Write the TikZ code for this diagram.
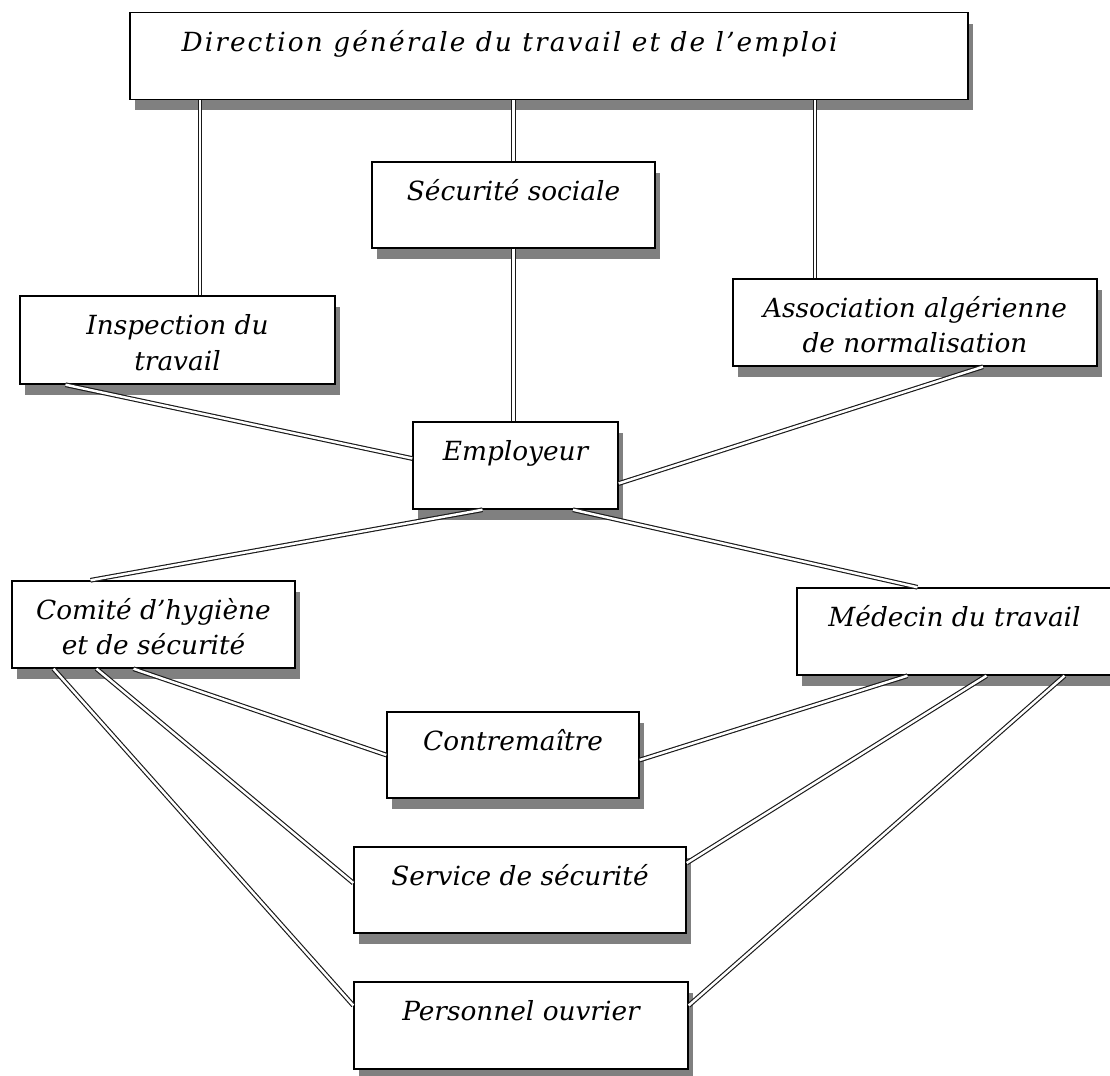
\documentclass[tikz,border=0pt]{standalone}
\usepackage{fontspec}
\setmainfont{DejaVu Serif}
\usetikzlibrary{shadows}

\begin{document}
\begin{tikzpicture}[x=0.02cm, y=-0.02cm,
        box/.style={draw=black, line width=0.85pt, fill=white, inner sep=0pt,
            drop shadow={shadow xshift=0.1cm, shadow yshift=-0.22cm, fill=black!50, opacity=1}},
        txt/.style={anchor=base, align=center, inner sep=0pt,
            font=\fontsize{15}{20}\selectfont\itshape},
        link/.style={draw=black!90, line width=0.65pt, double=white, double distance=1.4pt}]
        \useasboundingbox (0,0) rectangle (1110,1076);

        % boxes
        \node[box, minimum width=16.76cm, minimum height=1.74cm] (dir) at (549,56) {};
        \node[box, minimum width=5.66cm, minimum height=1.72cm] (secu) at (513.5,205) {};
        \node[box, minimum width=6.3cm, minimum height=1.76cm] (insp) at (177.5,340) {};
        \node[box, minimum width=7.28cm, minimum height=1.74cm] (assoc) at (915,322.5) {};
        \node[box, minimum width=4.1cm, minimum height=1.74cm] (emp) at (515.5,465.5) {};
        \node[box, minimum width=5.66cm, minimum height=1.74cm] (chs) at (153.5,624.5) {};
        \node[box, minimum width=6.3cm, minimum height=1.74cm] (med) at (954.5,631.5) {};
        \node[box, minimum width=5.04cm, minimum height=1.72cm] (contre) at (513,755) {};
        \node[box, minimum width=6.64cm, minimum height=1.72cm] (serv) at (520,890) {};
        \node[box, minimum width=6.68cm, minimum height=1.74cm] (pers) at (521,1025.5) {};

        % texts (base = last line)
        \node[txt, font=\fontsize{15}{20}\selectfont\itshape\addfontfeatures{LetterSpace=8}] (dir-t)
            at ([shift={(-39.5,-5)}]dir.center) {Direction générale du travail et de l’emploi};
        \node[txt] (secu-t) at ([shift={(0,-5)}]secu.center) {Sécurité sociale};
        \node[txt] (insp-t) at ([shift={(0,30)}]insp.center) {Inspection du\\travail};
        \node[txt] (assoc-t) at ([shift={(0,30)}]assoc.center) {Association algérienne\\de normalisation};
        \node[txt] (emp-t) at ([shift={(0,-5)}]emp.center) {Employeur};
        \node[txt] (chs-t) at ([shift={(0,30)}]chs.center) {Comité d’hygiène\\et de sécurité};
        \node[txt] (med-t) at ([shift={(0,-5)}]med.center) {Médecin du travail};
        \node[txt] (contre-t) at ([shift={(0,-5)}]contre.center) {Contremaître};
        \node[txt] (serv-t) at ([shift={(0,-5)}]serv.center) {Service de sécurité};
        \node[txt] (pers-t) at ([shift={(0,-5)}]pers.center) {Personnel ouvrier};

        % links
        \coordinate (insp-up) at ([shift={(22.5,0)}]insp.north);
        \coordinate (assoc-up) at ([shift={(-100,0)}]assoc.north);
        \draw[link] (insp-up) -- (insp-up |- dir.south);
        \draw[link] (secu.north) -- (secu.north |- dir.south);
        \draw[link] (assoc-up) -- (assoc-up |- dir.south);
        \draw[link] (secu.south) -- (secu.south |- emp.north);

        \draw[link] ([shift={(-112,0)}]insp.south) -- ([shift={(0,-7)}]emp.west);
        \draw[link] ([shift={(68,0)}]assoc.south) -- ([shift={(0,18)}]emp.east);
        \draw[link] ([shift={(-33,0)}]emp.south) -- ([shift={(-63,0)}]chs.north);
        \draw[link] ([shift={(57.5,0)}]emp.south) -- ([shift={(-37,0)}]med.north);

        \draw[link] ([shift={(-20,0)}]chs.south) -- (contre.west);
        \draw[link] ([shift={(-57,0)}]chs.south) -- ([shift={(0,-7)}]serv.west);
        \draw[link] ([shift={(-100,0)}]chs.south) -- ([shift={(0,-20)}]pers.west);
        \draw[link] ([shift={(-47,0)}]med.south) -- ([shift={(0,5)}]contre.east);
        \draw[link] ([shift={(32,0)}]med.south) -- ([shift={(0,-27)}]serv.east);
        \draw[link] ([shift={(110,0)}]med.south) -- ([shift={(0,-20)}]pers.east);
    \end{tikzpicture}
\end{document}
